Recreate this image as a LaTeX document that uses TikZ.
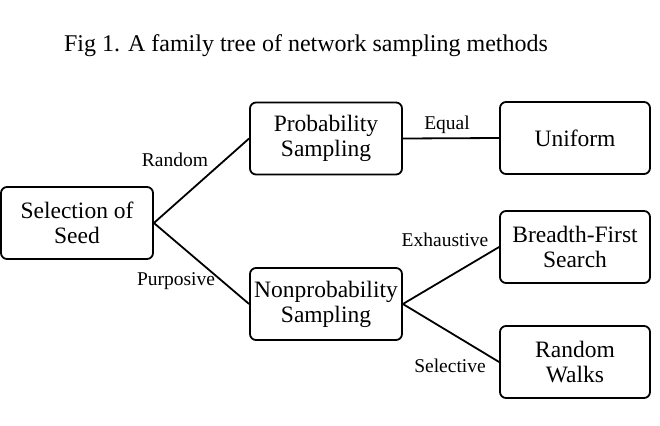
\documentclass[tikz,border=0pt]{standalone}
\usepackage{fontspec}
\setmainfont{Liberation Serif}
\begin{document}
\begin{tikzpicture}[x=1pt,y=-1pt,
  box/.style={draw, line width=1.8pt, rounded corners=6pt, minimum width=152pt, minimum height=72pt, align=center, inner sep=0pt, font=\fontsize{23.5}{25}\selectfont},
  lbl/.style={inner sep=0pt, font=\fontsize{19.5}{21}\selectfont},
  edge/.style={line width=1.8pt}]
\useasboundingbox (0,0) rectangle (660,425);
\node[inner sep=0pt, font=\fontsize{24}{26}\selectfont] (title) at (306,46) {Fig 1. A family tree of network sampling methods};
\node[box] (seed) at (77,223) {Selection of\\Seed};
\node[box] (prob) at (326,138.5) {Probability\\Sampling};
\node[box] (nonprob) at (326,304) {Nonprobability\\Sampling};
\node[box, minimum width=150pt] (unif) at (575,138) {Uniform};
\node[box, minimum width=150pt] (bfs) at (575,247) {Breadth-First\\Search};
\node[box, minimum width=150pt] (rw) at (575,362) {Random\\Walks};
\draw[edge] (seed.east) -- (prob.west);
\draw[edge] (seed.east) -- (nonprob.west);
\draw[edge] (prob.east) -- (unif.west);
\draw[edge] (nonprob.east) -- (bfs.west);
\draw[edge] (nonprob.east) -- (rw.west);
\node[lbl] (lrandom) at (175,160) {Random};
\node[lbl] (lpurp) at (176,281) {Purposive};
\node[lbl] (lequal) at (447,125) {Equal};
\node[lbl] (lexh) at (445,240) {Exhaustive};
\node[lbl] (lsel) at (450,366) {Selective};
\end{tikzpicture}
\end{document}
